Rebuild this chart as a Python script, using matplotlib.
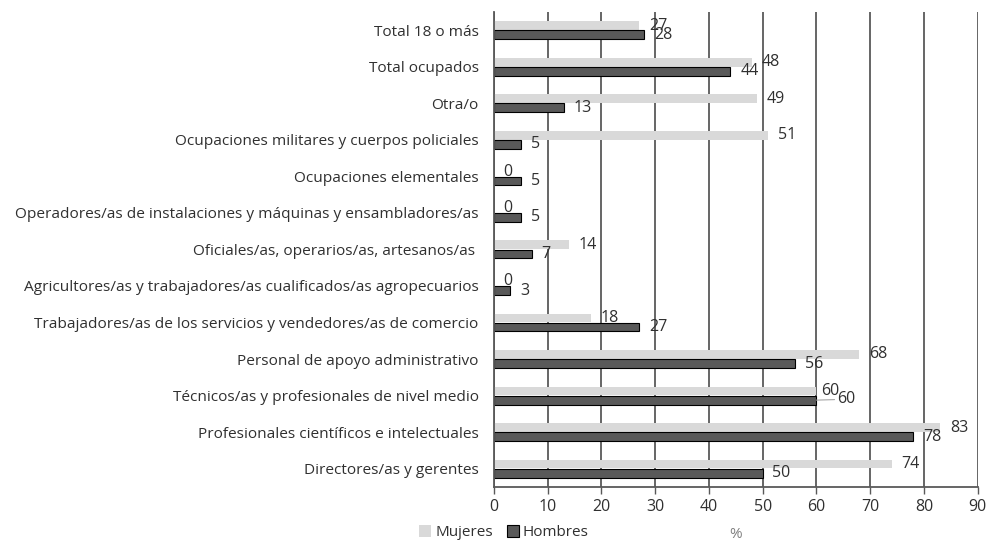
import matplotlib
matplotlib.use("Agg")
import matplotlib.pyplot as plt
import numpy as np
from matplotlib.patches import Patch

plt.rcParams['font.family'] = ['Open Sans', 'DejaVu Sans']

categories = [
    "Total 18 o más",
    "Total ocupados",
    "Otra/o",
    "Ocupaciones militares y cuerpos policiales",
    "Ocupaciones elementales",
    "Operadores/as de instalaciones y máquinas y ensambladores/as",
    "Oficiales/as, operarios/as, artesanos/as ",
    "Agricultores/as y trabajadores/as cualificados/as agropecuarios",
    "Trabajadores/as de los servicios y vendedores/as de comercio",
    "Personal de apoyo administrativo",
    "Técnicos/as y profesionales de nivel medio",
    "Profesionales científicos e intelectuales",
    "Directores/as y gerentes",
]
mujeres = [27, 48, 49, 51, 0, 0, 14, 0, 18, 68, 60, 83, 74]
hombres = [28, 44, 13, 5, 5, 5, 7, 3, 27, 56, 60, 78, 50]
xticks = list(range(0, 100, 10))

text_color = '#303030'
c_muj = '#d9d9d9'
c_hom = '#595959'

fig = plt.figure(figsize=(9.88, 5.41), dpi=100)
ax = fig.add_axes([0.5, 0.1, 0.4896, 0.878])

y = np.arange(len(categories))
h = 0.24
off = 0.125
ax.barh(y - off, mujeres, height=h, color=c_muj, zorder=2)
ax.barh(y + off, hombres, height=h, color=c_hom, edgecolor='black',
        linewidth=0.8, zorder=2)

ax.set_ylim(len(categories) - 0.5, -0.5)
ax.set_xlim(0, 90)
ax.set_xticks(xticks)
ax.set_yticks(y)
ax.set_yticklabels(categories)
ax.tick_params(axis='y', length=0, pad=11, labelsize=11.1, labelcolor=text_color)
ax.tick_params(axis='x', length=5, width=1, color='#595959', labelsize=11.5,
               labelcolor=text_color, direction='out')

ax.xaxis.grid(True, color='#595959', linewidth=1.3, zorder=0)
ax.set_axisbelow(True)
for s in ['top', 'right']:
    ax.spines[s].set_visible(False)
ax.spines['left'].set_color('#595959')
ax.spines['left'].set_linewidth(1.3)
ax.spines['bottom'].set_color('#595959')
ax.spines['bottom'].set_linewidth(1.3)

# value labels
for i, (m, hv) in enumerate(zip(mujeres, hombres)):
    mdx = 7
    hdx = 7
    if categories[i].startswith("Técnicos"):
        mdx = 3
        hdx = 15
    ax.annotate(str(m), (m, i - off), xytext=(mdx, 0), textcoords='offset points',
                va='center', ha='left', fontsize=11.5, color=text_color)
    if categories[i].startswith("Técnicos"):
        ax.annotate(str(hv), (hv, i + off), xytext=(hdx, 1), textcoords='offset points',
                    va='center', ha='left', fontsize=11.5, color=text_color,
                    arrowprops=dict(arrowstyle='-', color='#a6a6a6', lw=0.8,
                                    shrinkA=0, shrinkB=0,
                                    relpos=(0, 0.45)))
    else:
        ax.annotate(str(hv), (hv, i + off), xytext=(hdx, 0), textcoords='offset points',
                    va='center', ha='left', fontsize=11.5, color=text_color)

fig.text(736 / 988, 1 - 534 / 541, '%', color='#808080', fontsize=11,
         ha='center', va='center')

handles = [Patch(facecolor=c_muj, edgecolor='none', label='Mujeres'),
           Patch(facecolor=c_hom, edgecolor='black', linewidth=0.8, label='Hombres')]
fig.legend(handles=handles, loc='center left', bbox_to_anchor=(0.418, 0.015),
           ncol=2, frameon=False, fontsize=11, handlelength=0.8, handleheight=0.8,
           handletextpad=0.25, columnspacing=0.9, labelcolor=text_color,
           borderaxespad=0)

fig.savefig('out.png', dpi=100)
